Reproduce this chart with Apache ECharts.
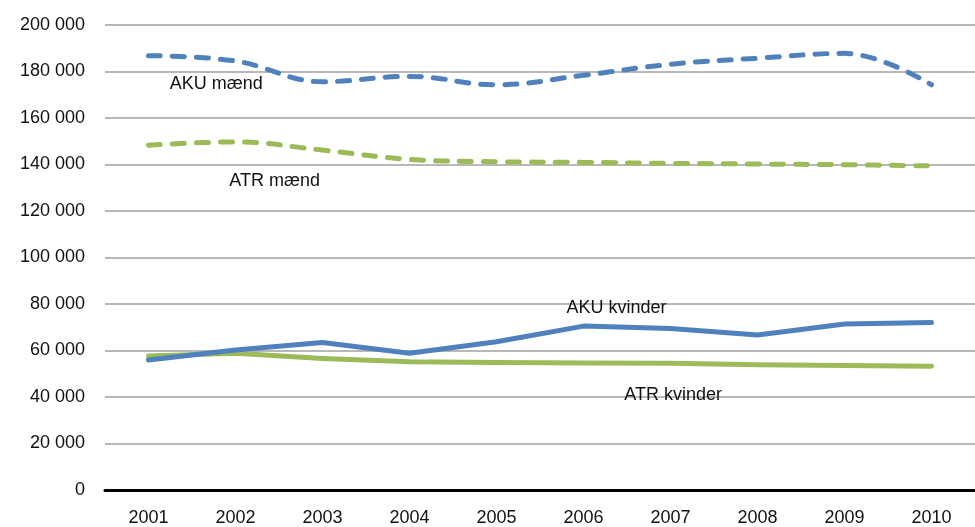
<!DOCTYPE html>
<html>
<head>
<meta charset="utf-8">
<script src="https://cdn.jsdelivr.net/npm/echarts@6/dist/echarts.min.js"></script>
<style>
  html, body { margin: 0; padding: 0; background: #fff; }
  #chart { width: 975px; height: 527px; }
</style>
</head>
<body>
<div id="chart"></div>
<script>
// årstal
const years = ["2001", "2002", "2003", "2004", "2005", "2006", "2007", "2008", "2009", "2010"];
// serier
const akuMaend = [186800, 184500, 175600, 177900, 174300, 178400, 183100, 185700, 187800, 174300];
const atrMaend = [148300, 149700, 146200, 142200, 141200, 140900, 140500, 140200, 139900, 139400];
const akuKvinder = [55900, 60200, 63400, 58800, 63800, 70500, 69500, 66700, 71400, 72000];
const atrKvinder = [57600, 58800, 56600, 55200, 54800, 54600, 54500, 53900, 53600, 53200];

const BLUE = "#4f81bd";
const GREEN = "#9bbb59";
const FONT = "Liberation Sans";

// tekstetiketter placeret i dataområdet (kategori-indeks, værdi)
const seriesLabels = [
  { text: "AKU mænd", at: [0.78, 174600] },
  { text: "ATR mænd", at: [1.45, 132900] },
  { text: "AKU kvinder", at: [5.38, 78300] },
  { text: "ATR kvinder", at: [6.03, 40900] }
];

const chart = echarts.init(document.getElementById("chart"));

function fmt(v) {
  return String(v).replace(/\B(?=(\d{3})+(?!\d))/g, " ");
}

function lineSeries(name, data, color, dashed) {
  return {
    name: name,
    type: "line",
    data: data,
    smooth: dashed ? 0.4 : false,
    symbol: "none",
    animation: false,
    lineStyle: {
      color: color,
      width: 5,
      type: dashed ? [12, 12] : "solid",
      cap: "round",
      join: "round"
    }
  };
}

chart.setOption({
  animation: false,
  grid: { left: 105, right: -7, top: 25, bottom: 37 },
  xAxis: {
    type: "category",
    data: years,
    boundaryGap: true,
    axisLine: { lineStyle: { color: "#000", width: 3 } },
    axisTick: { show: false },
    axisLabel: { color: "#111", fontFamily: FONT, fontSize: 18, margin: 19 }
  },
  yAxis: {
    type: "value",
    min: 0,
    max: 200000,
    interval: 20000,
    axisLine: { show: false },
    axisTick: { show: false },
    axisLabel: {
      color: "#111",
      fontFamily: FONT,
      fontSize: 18,
      margin: 20,
      formatter: fmt
    },
    splitLine: { lineStyle: { color: "#a0a0a0", width: 1.5 } }
  },
  series: [
    lineSeries("AKU mænd", akuMaend, BLUE, true),
    lineSeries("ATR mænd", atrMaend, GREEN, true),
    lineSeries("ATR kvinder", atrKvinder, GREEN, false),
    lineSeries("AKU kvinder", akuKvinder, BLUE, false)
  ]
});

// kategoriaksen runder indekset, så der interpoleres mellem to nabokategorier
function toPixel(at) {
  const i0 = Math.floor(at[0]);
  const t = at[0] - i0;
  const a = chart.convertToPixel({ gridIndex: 0 }, [i0, at[1]]);
  const b = chart.convertToPixel({ gridIndex: 0 }, [i0 + 1, at[1]]);
  return [a[0] + (b[0] - a[0]) * t, a[1]];
}

// etiketter
const graphics = seriesLabels.map(l => {
  const p = toPixel(l.at);
  return {
    type: "text",
    x: p[0],
    y: p[1],
    style: {
      text: l.text,
      fill: "#111",
      font: "18px '" + FONT + "'",
      align: "center",
      verticalAlign: "middle"
    }
  };
});
chart.setOption({ graphic: graphics });
</script>
</body>
</html>
